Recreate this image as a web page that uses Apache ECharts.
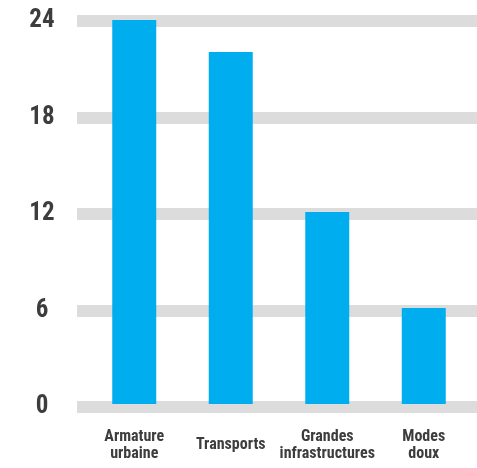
<!DOCTYPE html>
<html>
<head>
<meta charset="utf-8">
<script src="https://cdn.jsdelivr.net/npm/echarts@6/dist/echarts.min.js"></script>
<style>
  html, body { margin: 0; padding: 0; background: #fff; }
  #chart-box { width: 477px; height: 468px; }
</style>
</head>
<body>
<div id="chart-box"></div>
<script>
const categories = ['Armature\nurbaine', 'Transports', 'Grandes\ninfrastructures', 'Modes\ndoux']
const values = [24, 22, 12, 6]
const yTicks = [0, 6, 12, 18, 24]

const textColor = '#3d3d3d'
const fontFam = '"Liberation Sans Narrow", "Roboto Condensed", "Liberation Sans", sans-serif'

let chart = echarts.init(document.getElementById('chart-box'))
chart.setOption({
    animation: false,
    grid: [
        // bands behind bars
        {left: 77, right: 0, top: 21, bottom: 61},
        // bars
        {left: 86, right: 5, top: 20, bottom: 64}
    ],
    xAxis: [
        {gridIndex: 0, type: 'category', data: categories, show: false},
        {
            gridIndex: 1,
            type: 'category',
            data: categories,
            axisLine: {show: false},
            axisTick: {show: false},
            axisLabel: {
                interval: 0,
                margin: 41,
                verticalAlign: 'middle',
                color: textColor,
                fontFamily: fontFam,
                fontWeight: 'bold',
                fontSize: 16,
                lineHeight: 17
            }
        }
    ],
    yAxis: [
        {
            gridIndex: 0,
            type: 'value',
            min: yTicks[0],
            max: yTicks[yTicks.length - 1],
            interval: 6,
            axisLine: {show: false},
            axisTick: {show: false},
            splitLine: {lineStyle: {color: '#dcdcdc', width: 12}},
            axisLabel: {
                margin: 35,
                align: 'center',
                color: textColor,
                fontFamily: fontFam,
                fontWeight: 'bold',
                fontSize: 25
            }
        },
        {
            gridIndex: 1,
            type: 'value',
            min: yTicks[0],
            max: yTicks[yTicks.length - 1],
            interval: 6,
            show: false
        }
    ],
    series: [{
        type: 'bar',
        xAxisIndex: 1,
        yAxisIndex: 1,
        data: values,
        barWidth: 44,
        itemStyle: {color: '#00aeef'}
    }]
})
</script>
</body>
</html>
